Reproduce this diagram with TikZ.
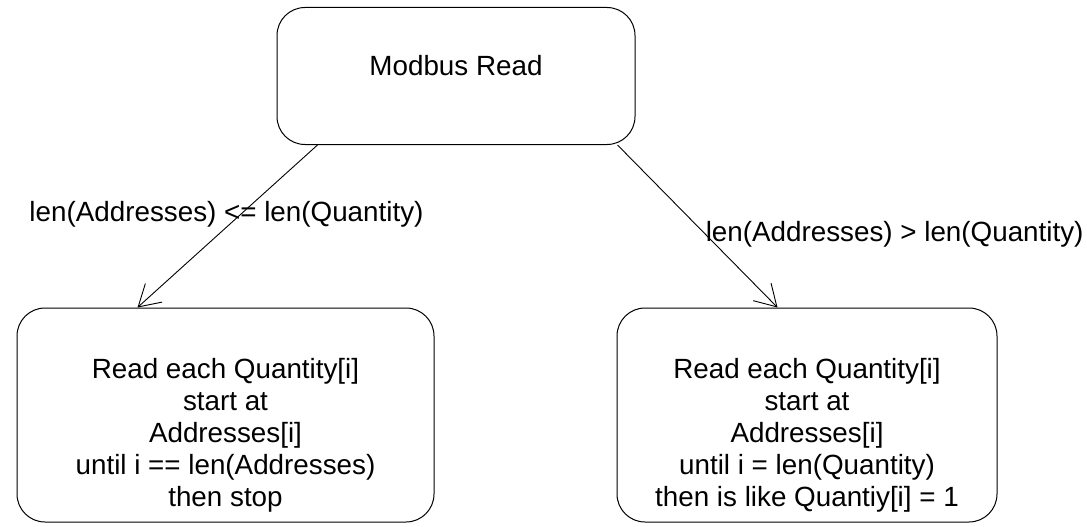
\documentclass[tikz,border=0pt]{standalone}
\usepackage{fontspec}
\setmainfont{Liberation Sans}
\usepackage{tikz}
\usetikzlibrary{positioning,arrows.meta,calc}
\newcommand{\topgap}{\rule{0pt}{61pt}}
\tikzset{
  >={Straight Barb[length=21pt,width=25pt]},
  stbox/.style={draw,rounded corners=28pt,line width=1pt,align=center,
    inner sep=0pt,font=\fontsize{27.8}{32}\selectfont},
  flow/.style={->,line width=0.9pt},
  flowlbl/.style={font=\fontsize{27.8}{32}\selectfont,inner sep=0pt},
}
\begin{document}
\begin{tikzpicture}[x=1pt,y=-1pt]
  \useasboundingbox (0,0) rectangle (1087,527);
  \node[stbox,minimum width=358pt,text height=68pt,text depth=69pt] (mbread) at (456,76) {Modbus Read};
  \node[stbox,minimum width=417pt,minimum height=214pt] (rdaddr) at (225.5,415)
    {\topgap Read each Quantity[i]\\start at\\Addresses[i]\\until i == len(Addresses)\\then stop};
  \node[stbox,minimum width=380pt,minimum height=214pt] (rdqty) at (807,415)
    {\topgap Read each Quantity[i]\\start at\\Addresses[i]\\until i = len(Quantity)\\then is like Quantiy[i] = 1};
  % the two branches
  \draw[flow] ($(mbread.south west)+(41,0)$) -- ($(rdaddr.north west)+(121,0)$)
    node[flowlbl,pos=0.4,xshift=-19pt,yshift=-4pt] (lbless) {len(Addresses) <= len(Quantity)};
  \draw[flow] ($(mbread.south east)+(-18,0)$) -- ($(rdqty.north west)+(161,0)$)
    node[flowlbl,pos=0.53,anchor=west,xshift=3pt,yshift=-3pt] (lbmore) {len(Addresses) > len(Quantity)};
\end{tikzpicture}
\end{document}
